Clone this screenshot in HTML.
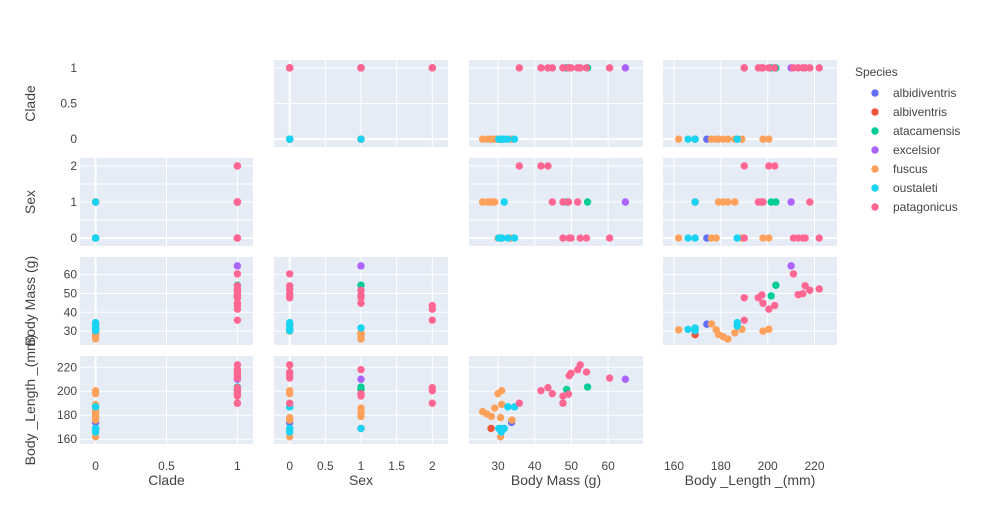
<!DOCTYPE html>
<html><head><meta charset="utf-8"><style>
body{margin:0;background:#fff;font-family:"Liberation Sans",Arial,sans-serif}
svg text{font-family:"Liberation Sans",Arial,sans-serif;fill:#444}
</style></head><body>
<svg id="c" width="983" height="525"></svg>
<script>
const species=["fuscus","fuscus","fuscus","fuscus","fuscus","fuscus","fuscus","fuscus","fuscus","albidiventris","albiventris","oustaleti","oustaleti","oustaleti","oustaleti","fuscus","oustaleti","oustaleti","patagonicus","patagonicus","patagonicus","patagonicus","patagonicus","patagonicus","patagonicus","atacamensis","patagonicus","patagonicus","patagonicus","patagonicus","patagonicus","atacamensis","patagonicus","excelsior"];
const clade=[0,0,0,0,0,0,0,0,0,0,0,0,0,0,0,0,0,0,1,1,1,1,1,1,1,1,1,1,1,1,1,1,1,1];
const sex=[1,1,1,1,0,0,0,0,0,0,1,0,0,1,0,0,0,0,2,2,2,1,0,1,1,1,0,0,1,0,0,1,0,1];
const mass=[25.8,27.0,28.2,29.1,30.0,31.0,31.0,30.7,33.8,33.7,28.1,30.2,31.1,31.7,30.9,30.7,32.7,34.5,35.8,41.7,43.6,44.8,47.7,47.7,49.2,48.7,49.4,49.9,51.7,52.4,54.1,54.4,60.4,64.7];
const blen=[183,181,179,186,198,200.5,189,178,176,174,169,169,169,169,166,162,187,187,190,200.5,203,198,190,196,197.5,201.5,213,215,218,222,216,203.5,211,210];
const speciesList=["albidiventris","albiventris","atacamensis","excelsior","fuscus","oustaleti","patagonicus"];
const colors=["#636efa","#EF553B","#00cc96","#ab63fa","#FFA15A","#19d3f3","#FF6692"];
const varNames=["Clade","Sex","Body Mass (g)","Body _Length _(mm)"];
const cladeTicks=[0,0.5,1];
const sexTicks=[0,0.5,1,1.5,2];
const massTicks=[30,40,50,60];
const lenTicks=[160,180,200,220];
const NS="http://www.w3.org/2000/svg";
const svg=document.getElementById('c');
function el(t,a,p){const e=document.createElementNS(NS,t);for(const k in a)e.setAttribute(k,a[k]);(p||svg).appendChild(e);return e;}
const cols=[[80,253],[274,448],[469,643],[663,837]];
const rows=[[60,147],[158,246],[257,345],[356,444]];
const xdom=[[-0.11,1.11],[-0.22,2.22],[22.1,69.5],[155.3,229.6]];
const ydom=[[1.11,-0.11],[2.22,-0.22],[69.4,22.6],[229.4,156]];
const ticks=[cladeTicks,sexTicks,massTicks,lenTicks];
const labelTicks=[[0,0.5,1],[0,0.5,1,1.5,2],massTicks,lenTicks];
const yLabelTicks=[[0,0.5,1],[0,1,2],massTicks,lenTicks];
const vals=[clade,sex,mass,blen];
function sx(c,v){const d=xdom[c],r=cols[c];return r[0]+(v-d[0])/(d[1]-d[0])*(r[1]-r[0]);}
function sy(r,v){const d=ydom[r],g=rows[r];return g[0]+(v-d[0])/(d[1]-d[0])*(g[1]-g[0]);}
for(let r=0;r<4;r++)for(let c=0;c<4;c++){
  if(r===c)continue;
  const g=el('g',{});
  
  
  el('rect',{x:cols[c][0],y:rows[r][0],width:cols[c][1]-cols[c][0],height:rows[r][1]-rows[r][0],fill:'#e5ecf6'},g);
  ticks[c].forEach(t=>{const x=sx(c,t);el('line',{x1:x,x2:x,y1:rows[r][0],y2:rows[r][1],stroke:'#fff','stroke-width':t===0?2:1},g);});
  ticks[r].forEach(t=>{const y=sy(r,t);el('line',{y1:y,y2:y,x1:cols[c][0],x2:cols[c][1],stroke:'#fff','stroke-width':t===0?2:1},g);});
  speciesList.forEach((s,si)=>{
    for(let i=0;i<mass.length;i++){
      if(species[i]!==s)continue;
      const p=el('circle',{cx:sx(c,vals[c][i]),cy:sy(r,vals[r][i]),r:3.7,fill:colors[si]},g);
      
      
    }
  });
}
for(let r=0;r<4;r++){
  yLabelTicks[r].forEach(t=>{const tx=el('text',{x:77,y:sy(r,t)+4,'text-anchor':'end','font-size':12});tx.textContent=t;
    });
  const yc=(rows[r][0]+rows[r][1])/2;
  const tt=el('text',{x:35,y:yc,'text-anchor':'middle','font-size':14,transform:'rotate(-90 35 '+yc+')'});
  tt.textContent=varNames[r];
  
}
for(let c=0;c<4;c++){
  labelTicks[c].forEach(t=>{const tx=el('text',{x:sx(c,t),y:470,'text-anchor':'middle','font-size':12});tx.textContent=t;
    });
  const tt=el('text',{x:(cols[c][0]+cols[c][1])/2,y:485,'text-anchor':'middle','font-size':14});
  tt.textContent=varNames[c];
  
}
const lt=el('text',{x:855,y:76,'font-size':12});lt.textContent='Species';

speciesList.forEach((s,i)=>{
  const y=93+i*19;
  const g=el('g',{});
  
  
  el('circle',{cx:875,cy:y,r:3.7,fill:colors[i]},g);
  const t=el('text',{x:893,y:y+4,'font-size':12},g);t.textContent=s;
});
</script>
</body></html>
